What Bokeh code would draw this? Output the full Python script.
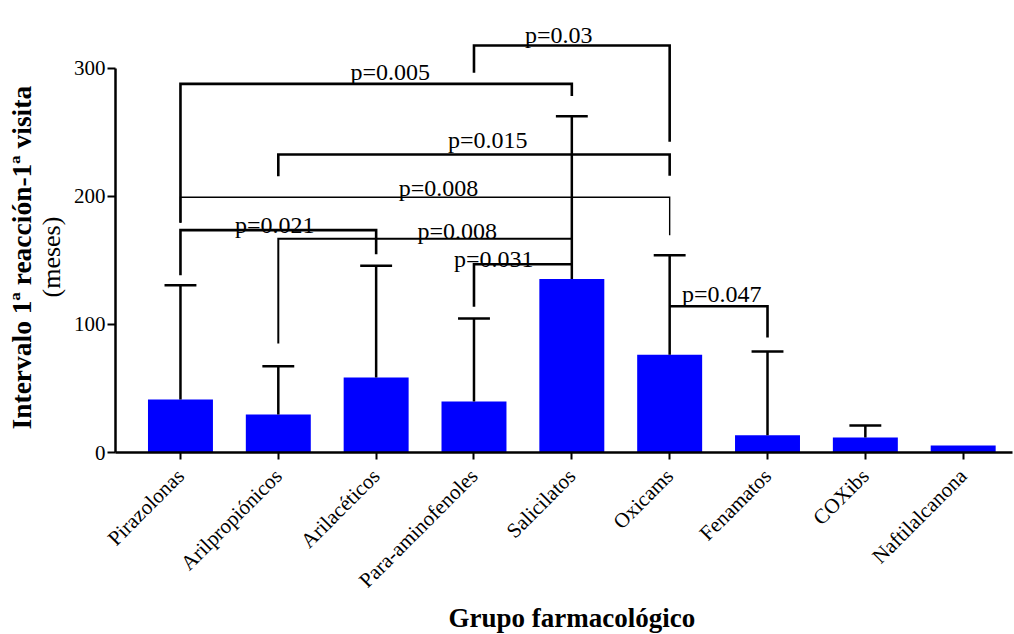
import math
from bokeh.plotting import figure
from bokeh.models import Range1d, FixedTicker, Title
from bokeh.embed import file_html
from bokeh.resources import INLINE
from bokeh.core.properties import value

# ---------------- data ----------------
categories = ["Pirazolonas", "Arilpropiónicos", "Arilacéticos", "Para-aminofenoles",
              "Salicilatos", "Oxicams", "Fenamatos", "COXibs", "Naftilalcanona"]
means = [41.4, 29.7, 58.6, 39.8, 135.6, 76.3, 13.5, 11.7, 5.5]
upper = [130.7, 67.4, 145.8, 104.7, 262.7, 154.1, 78.9, 21.1, None]
y_ticks = [0, 100, 200, 300]

# significance brackets: groups compared, bracket level, leg ends, label
br_left = [0, 3, 1, 0, 0, 1, 3, 5]
br_right = [4, 5, 5, 5, 2, 4, 4, 6]
br_level = [288.0, 318.0, 232.8, 199.4, 173.7, 166.9, 147.1, 114.3]
br_left_end = [179.4, 296.6, 215.9, 179.4, 138.5, 85.1, 113.8, 114.3]
br_right_end = [278.4, 242.7, 216.1, 169.8, 154.9, 166.9, 147.1, 89.8]
p_labels = ["p=0.005", "p=0.03", "p=0.015", "p=0.008", "p=0.021", "p=0.008", "p=0.031", "p=0.047"]
# label anchors (category units / axis units)
p_label_x = [2.144, 3.867, 3.140, 2.637, 0.963, 2.828, 3.202, 5.533]
p_label_y = [297.3, 326.0, 244.5, 206.3, 178.1, 173.1, 150.8, 123.7]

y_title = "Intervalo 1ª reacción-1ª visita"
y_subtitle = "(meses)"
x_title = "Grupo farmacológico"

# ---------------- style ----------------
FONT = "Liberation Serif"
BAR_COLOR = "#0000FF"
bracket_widths = [2.6, 2.6, 2.6, 1.4, 2.6, 2.0, 2.6, 2.6]

idx = list(range(len(categories)))

p = figure(width=1014, height=634,
           x_range=Range1d(-0.664, 8.504), y_range=Range1d(0, 353.1),
           output_backend="svg", toolbar_location=None,
           min_border_left=115, min_border_right=2, min_border_top=0, min_border_bottom=182)
p.xgrid.visible = False
p.ygrid.visible = False
p.outline_line_color = None
p.background_fill_color = "white"
p.border_fill_color = "white"

# bars
p.vbar(x=idx, top=means, width=0.664, bottom=0, fill_color=BAR_COLOR, line_color=None)

# error bars (upper only)
ex = [i for i, u in zip(idx, upper) if u is not None]
ey0 = [m for m, u in zip(means, upper) if u is not None]
ey1 = [u for u in upper if u is not None]
p.segment(x0=ex, y0=ey0, x1=ex, y1=ey1, line_color="black", line_width=2.5)
cap = 0.163
p.segment(x0=[x - cap for x in ex], y0=ey1, x1=[x + cap for x in ex], y1=ey1,
          line_color="black", line_width=2.5)

# brackets
xs, ys = [], []
for l, r, lev, le, re in zip(br_left, br_right, br_level, br_left_end, br_right_end):
    xs.append([l, l, r, r])
    ys.append([le, lev, lev, re])
p.multi_line(xs="xs", ys="ys", line_color="black", line_width="lw", line_join="miter",
             source=dict(xs=xs, ys=ys, lw=bracket_widths))

p.text(x=p_label_x, y=p_label_y, text=p_labels, text_align="center",
       text_baseline="alphabetic", text_font=value(FONT), text_font_size="24px",
       text_color="black")

# y axis
ya = p.yaxis[0]
ya.ticker = FixedTicker(ticks=y_ticks)
ya.bounds = (0, 300)
ya.axis_line_width = 2.5
ya.axis_line_color = "black"
ya.major_tick_line_width = 2
ya.major_tick_out = 8
ya.major_tick_in = 0
ya.minor_tick_out = 0
ya.minor_tick_in = 0
ya.major_label_text_font = FONT
ya.major_label_text_font_size = "21px"
ya.major_label_text_color = "black"
ya.major_label_standoff = 2

# x axis
xa = p.xaxis[0]
xa.ticker = FixedTicker(ticks=idx)
xa.major_label_overrides = {i: c for i, c in zip(idx, categories)}
xa.major_label_orientation = math.pi / 4
xa.axis_line_width = 2.5
xa.axis_line_color = "black"
xa.major_tick_line_width = 2
xa.major_tick_out = 7
xa.major_tick_in = 0
xa.minor_tick_out = 0
xa.minor_tick_in = 0
xa.major_label_text_font = FONT
xa.major_label_text_font_size = "21px"
xa.major_label_text_color = "black"
xa.major_label_standoff = 13

# axis titles as side titles (inner first)
t_meses = Title(text=y_subtitle, align="left", offset=155, standoff=10,
                text_font=FONT, text_font_style="normal", text_font_size="26px",
                text_color="black")
p.add_layout(t_meses, "left")
t_y = Title(text=y_title, align="left", offset=23, standoff=-15,
            text_font=FONT, text_font_style="bold", text_font_size="27.5px",
            text_color="black")
p.add_layout(t_y, "left")
t_x = Title(text=x_title, align="left", offset=333, standoff=-6,
            text_font=FONT, text_font_style="bold", text_font_size="27px",
            text_color="black")
p.add_layout(t_x, "below")

open("out.html", "w").write(file_html(p, INLINE))
